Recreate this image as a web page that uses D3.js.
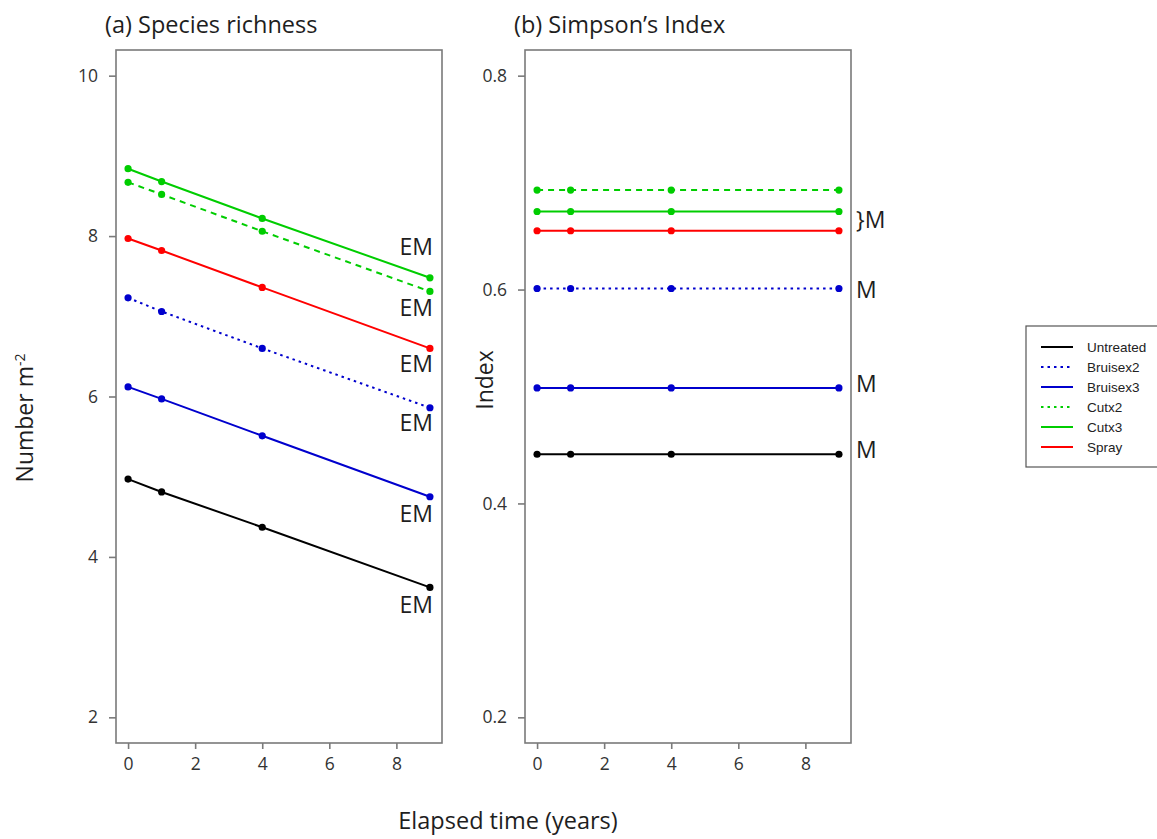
<!DOCTYPE html>
<html>
<head>
<meta charset="utf-8">
<script src="https://cdn.jsdelivr.net/npm/d3@7"></script>
<style>
  html, body { margin: 0; padding: 0; background: #fff; overflow: hidden; }
  svg { display: block; }
</style>
</head>
<body>
<svg id="chart" width="1157" height="839"></svg>
<script>
// ---------------- data ----------------
const years = [0, 1, 4, 9];
const seriesNames = ["Untreated", "Bruisex2", "Bruisex3", "Cutx2", "Cutx3", "Spray"];
const seriesColors = ["#000000", "#0000CD", "#0000CD", "#00CD00", "#00CD00", "#FF0000"];
const seriesDash = ["solid", "dotted", "solid", "dashed", "solid", "solid"];

// (a) Species richness, number per m2
const richUntreated = [4.97, 4.81, 4.37, 3.62];
const richBruisex2  = [7.23, 7.06, 6.60, 5.86];
const richBruisex3  = [6.12, 5.97, 5.51, 4.75];
const richCutx2     = [8.67, 8.52, 8.06, 7.31];
const richCutx3     = [8.84, 8.68, 8.22, 7.48];
const richSpray     = [7.97, 7.82, 7.36, 6.60];

// (b) Simpson's index
const simpUntreated = [0.446, 0.446, 0.446, 0.446];
const simpBruisex2  = [0.601, 0.601, 0.601, 0.601];
const simpBruisex3  = [0.508, 0.508, 0.508, 0.508];
const simpCutx2     = [0.693, 0.693, 0.693, 0.693];
const simpCutx3     = [0.673, 0.673, 0.673, 0.673];
const simpSpray     = [0.655, 0.655, 0.655, 0.655];

const xTicks = [0, 2, 4, 6, 8];
const richTicks = [2, 4, 6, 8, 10];
const simpTicks = [0.2, 0.4, 0.6, 0.8];

// significance labels (text, y value in data units)
const richLabels = ["EM", "EM", "EM", "EM", "EM", "EM"];
const richLabelY = [7.87, 7.10, 6.40, 5.67, 4.54, 3.40];
const simpLabels = ["}M", "M", "M", "M"];
const simpLabelY = [0.665, 0.600, 0.512, 0.450];

// ---------------- drawing ----------------
const svg = d3.select("#chart");
const FONT = "'Open Sans', Lato, sans-serif";
const AXIS_GREY = "#7a7a7a";
const TEXT_GREY = "#333";
const TEXT_DARK = "#1e1e1e";

const richSeries = [richUntreated, richBruisex2, richBruisex3, richCutx2, richCutx3, richSpray];
const simpSeries = [simpUntreated, simpBruisex2, simpBruisex3, simpCutx2, simpCutx3, simpSpray];

function dashFor(kind) {
  if (kind === "dotted") return "2.5,4";
  if (kind === "dashed") return "6,5";
  return null;
}

function drawPanel(opts) {
  const { left, right, top, bottom, yDomain, yTicks, yFormat, series, title, labels, labelY, labelX } = opts;
  const x = d3.scaleLinear().domain([-0.36, 9.36]).range([left, right]);
  const y = d3.scaleLinear().domain(yDomain).range([bottom, top]);
  const g = svg.append("g");

  // box
  g.append("rect").attr("x", left).attr("y", top)
    .attr("width", right - left).attr("height", bottom - top)
    .attr("fill", "none").attr("stroke", AXIS_GREY).attr("stroke-width", 1.6);

  // axes
  const xAxis = d3.axisBottom(x).tickValues(xTicks).tickSize(6).tickPadding(9).tickFormat(d3.format("d"));
  const ax = g.append("g").attr("transform", `translate(0,${bottom})`).call(xAxis);
  ax.select(".domain").remove();
  ax.selectAll("line").attr("stroke", AXIS_GREY).attr("stroke-width", 1.6);
  ax.selectAll("text").attr("font-family", FONT).attr("font-size", 17.5).attr("fill", TEXT_GREY);

  const yAxis = d3.axisLeft(y).tickValues(yTicks).tickSize(7).tickPadding(11).tickFormat(yFormat);
  const ay = g.append("g").attr("transform", `translate(${left},0)`).call(yAxis);
  ay.select(".domain").remove();
  ay.selectAll("line").attr("stroke", AXIS_GREY).attr("stroke-width", 1.6);
  ay.selectAll("text").attr("font-family", FONT).attr("font-size", 17.5).attr("fill", TEXT_GREY);

  // title
  g.append("text").attr("x", left - 11).attr("y", top - 17)
    .attr("font-family", FONT).attr("font-size", 23.5).attr("fill", TEXT_DARK).text(title);

  // lines + points
  const line = d3.line().x((d, i) => x(years[i])).y(d => y(d));
  series.forEach((vals, si) => {
    g.append("path").datum(vals).attr("d", line)
      .attr("fill", "none").attr("stroke", seriesColors[si]).attr("stroke-width", 2)
      .attr("stroke-dasharray", dashFor(seriesDash[si]));
    g.selectAll(null).data(vals).enter().append("circle")
      .attr("cx", (d, i) => x(years[i])).attr("cy", d => y(d)).attr("r", 3.6)
      .attr("fill", seriesColors[si]);
  });

  // significance labels
  labels.forEach((t, i) => {
    g.append("text").attr("x", labelX).attr("y", y(labelY[i]))
      .attr("dy", "0.35em")
      .attr("font-family", FONT).attr("font-size", 23).attr("fill", TEXT_DARK)
      .attr("text-anchor", opts.labelAnchor).text(t);
  });
  return { x, y };
}

drawPanel({
  left: 116, right: 442, top: 50, bottom: 743,
  yDomain: [1.68, 10.32], yTicks: richTicks, yFormat: d3.format("d"),
  series: richSeries, title: "(a) Species richness",
  labels: richLabels, labelY: richLabelY, labelX: 433, labelAnchor: "end"
});

drawPanel({
  left: 525, right: 851, top: 50, bottom: 743,
  yDomain: [0.176, 0.824], yTicks: simpTicks, yFormat: d3.format(".1f"),
  series: simpSeries, title: "(b) Simpson\u2019s Index",
  labels: simpLabels, labelY: simpLabelY, labelX: 856, labelAnchor: "start"
});

// axis titles
const yt = svg.append("text")
  .attr("transform", "translate(33,418) rotate(-90)")
  .attr("text-anchor", "middle")
  .attr("font-family", FONT).attr("font-size", 23).attr("fill", TEXT_DARK);
yt.append("tspan").text("Number m");
yt.append("tspan").attr("dy", "-0.6em").attr("font-size", 14).text("-2");

svg.append("text")
  .attr("transform", "translate(493,380) rotate(-90)")
  .attr("text-anchor", "middle")
  .attr("font-family", FONT).attr("font-size", 23).attr("fill", TEXT_DARK)
  .text("Index");

svg.append("text")
  .attr("x", 508).attr("y", 829)
  .attr("text-anchor", "middle")
  .attr("font-family", FONT).attr("font-size", 23.5).attr("fill", TEXT_DARK)
  .text("Elapsed time (years)");

// legend
const lg = svg.append("g");
lg.append("rect").attr("x", 1026).attr("y", 326).attr("width", 160).attr("height", 141)
  .attr("fill", "#fff").attr("stroke", "#555").attr("stroke-width", 1.2);
seriesNames.forEach((name, i) => {
  const yy = 347 + i * 20;
  lg.append("line").attr("x1", 1041).attr("x2", 1073).attr("y1", yy).attr("y2", yy)
    .attr("stroke", seriesColors[i]).attr("stroke-width", 2)
    .attr("stroke-dasharray", seriesDash[i] === "solid" ? null : "2.5,4");
  lg.append("text").attr("x", 1087).attr("y", yy).attr("dy", "0.35em")
    .attr("font-family", "'Liberation Sans', Arial, sans-serif").attr("font-size", 13.5)
    .attr("fill", "#222").text(name);
});
</script>
</body>
</html>
